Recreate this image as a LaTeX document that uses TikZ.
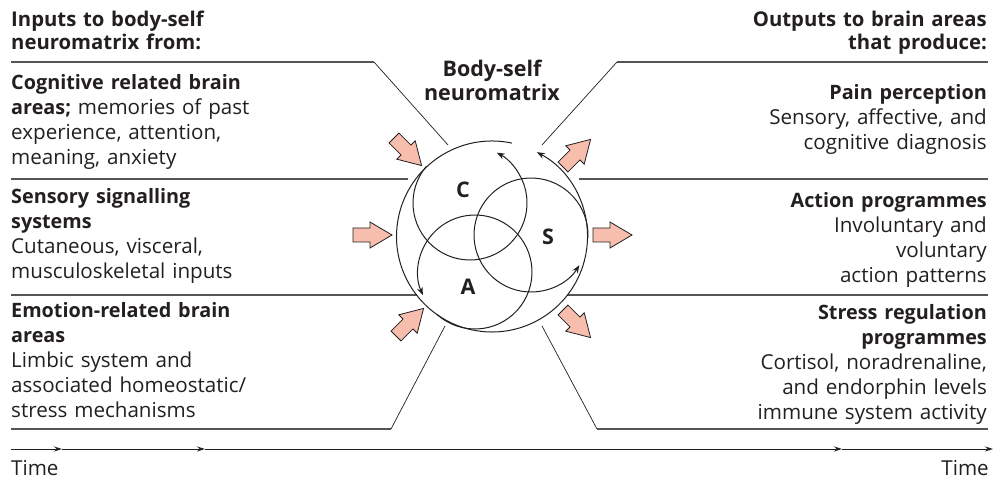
\documentclass[tikz,border=0pt]{standalone}
\usepackage{fontspec}
\setmainfont{Open Sans}
\usetikzlibrary{arrows.meta}
\definecolor{ink}{HTML}{231F20}
\definecolor{rulegrey}{HTML}{555555}
\definecolor{salmon}{HTML}{F8BEAD}
\newcommand\bt[1]{{\fontsize{19.8}{24.8}\selectfont\bfseries #1}}
\begin{document}
\begin{tikzpicture}[x=1pt,y=1pt,
  txt/.style={inner sep=0pt, text=ink, font=\fontsize{20.6}{24.8}\selectfont, text width=340pt},
  ltxt/.style={txt, align=left, anchor=base west},
  rtxt/.style={txt, align=right, anchor=base east},
  htxt/.style={inner sep=0pt, text=ink, font=\bfseries\fontsize{20.3}{23}\selectfont, text width=340pt},
  sepline/.style={draw=rulegrey, line width=1.2pt},
  diagline/.style={draw=ink, line width=0.7pt},
  loopline/.style={draw=ink, line width=1pt, -{Stealth[length=8pt,width=6pt]}},
  tline/.style={draw=ink, line width=0.9pt, -{Stealth[length=8pt,width=5pt]}},
  parr/.pic={\draw[draw=ink, fill=salmon, line width=0.8pt, line join=miter]
     (0,-7) -- (17,-7) -- (17,-13) -- (39,0) -- (17,13) -- (17,7) -- (0,7) -- cycle;},
  letter/.style={font=\bfseries\fontsize{21.5}{21.5}\selectfont, text=ink, inner sep=0pt}
]
\useasboundingbox (0,0) rectangle (994,481);

% separator geometry
\coordinate (l1a) at (11,419);  \coordinate (l1b) at (374,419); \coordinate (l1c) at (448,336);
\coordinate (r1a) at (988,419); \coordinate (r1b) at (617,419); \coordinate (r1c) at (542,336);
\coordinate (l2a) at (11,302);  \coordinate (l2b) at (408,302);
\coordinate (r2a) at (988,302); \coordinate (r2b) at (579,302);
\coordinate (l3a) at (11,186);  \coordinate (l3b) at (417,186);
\coordinate (r3a) at (988,186); \coordinate (r3b) at (567,186);
\coordinate (l4a) at (11,52);   \coordinate (l4b) at (391,52);  \coordinate (l4c) at (445,155);
\coordinate (r4a) at (988,52);  \coordinate (r4b) at (597,52);  \coordinate (r4c) at (542,155);

\draw[sepline] (l1a) -- (l1b);
\draw[diagline] (l1b) -- (l1c);
\draw[sepline] (r1a) -- (r1b);
\draw[diagline] (r1b) -- (r1c);
\draw[sepline] (l2a) -- (l2b);
\draw[sepline] (r2a) -- (r2b);
\draw[sepline] (l3a) -- (l3b);
\draw[sepline] (r3a) -- (r3b);
\draw[sepline] (l4a) -- (l4b);
\draw[diagline] (l4b) -- (l4c);
\draw[sepline] (r4a) -- (r4b);
\draw[diagline] (r4b) -- (r4c);

% timeline
\coordinate (t0) at (11,32);
\coordinate (t1) at (62,32);
\coordinate (t2) at (205,32);
\coordinate (t3) at (842,32);
\coordinate (t4) at (993,32);
\draw[tline] (t0) -- (t1);
\draw[tline] (t1) -- (t2);
\draw[tline] (t2) -- (t3);
\draw[tline] (t3) -- (t4);
\node[inner sep=0pt, text=ink, font=\fontsize{20.6}{24}\selectfont, anchor=base west] (timeL) at (11,5) {Time};
\node[inner sep=0pt, text=ink, font=\fontsize{20.6}{24}\selectfont, anchor=base east] (timeR) at (989,5) {Time};

% circles
\coordinate (O) at (492,244.5);
\coordinate (Cc) at (470,278);
\coordinate (Sc) at (531,246);
\coordinate (Ac) at (475,209);
\draw[loopline] ([shift={(78:95.5)}]O) arc[start angle=78, end angle=422, radius=95.5];
\draw[loopline] ([shift={(140:57)}]Cc) arc[start angle=140, end angle=422, radius=57];
\draw[loopline] ([shift={(-3:57)}]Sc) arc[start angle=-3, end angle=328, radius=57];
\draw[loopline] ([shift={(228:57)}]Ac) arc[start angle=228, end angle=564, radius=57];
\node[letter] (C) at (463,291) {C};
\node[letter] (S) at (548,244) {S};
\node[letter] (A) at (468,194) {A};

% title
\node[inner sep=0pt, text=ink, font=\bfseries\fontsize{21.5}{24}\selectfont, text width=200pt, align=center, anchor=base] (title) at (492,404) {Body-self\\neuromatrix};

% pink block arrows
\pic[rotate=-45] (in1) at (394,343) {parr};
\pic (in2) at (353,246) {parr};
\pic[rotate=45] (in3) at (396,145) {parr};
\pic[rotate=45] (out1) at (563,314) {parr};
\pic (out2) at (593,246) {parr};
\pic[rotate=-45] (out3) at (563,171) {parr};

% left texts
\node[htxt, align=left, anchor=base west] (inhead) at (11,454.5) {Inputs to body-self\\neuromatrix from:};
\node[ltxt] (cog) at (11,391) {\bt{Cognitive related brain}\\\bt{areas;} memories of past\\experience, attention,\\meaning, anxiety};
\node[ltxt] (sens) at (11,277) {\bt{Sensory signalling}\\\bt{systems}\\Cutaneous, visceral,\\musculoskeletal inputs};
\node[ltxt] (emo) at (11,163) {\bt{Emotion-related brain}\\\bt{areas}\\Limbic system and\\associated homeostatic/\\stress mechanisms};

% right texts
\node[htxt, align=right, anchor=base east] (outhead) at (987,454.5) {Outputs to brain areas\\that produce:};
\node[rtxt] (pain) at (987,381) {\bt{Pain perception}\\Sensory, affective, and\\cognitive diagnosis};
\node[rtxt] (act) at (987,273) {\bt{Action programmes}\\Involuntary and\\voluntary\\action patterns};
\node[rtxt] (stress) at (987,161) {\bt{Stress regulation}\\\bt{programmes}\\Cortisol, noradrenaline,\\and endorphin levels\\immune system activity};
\end{tikzpicture}
\end{document}
